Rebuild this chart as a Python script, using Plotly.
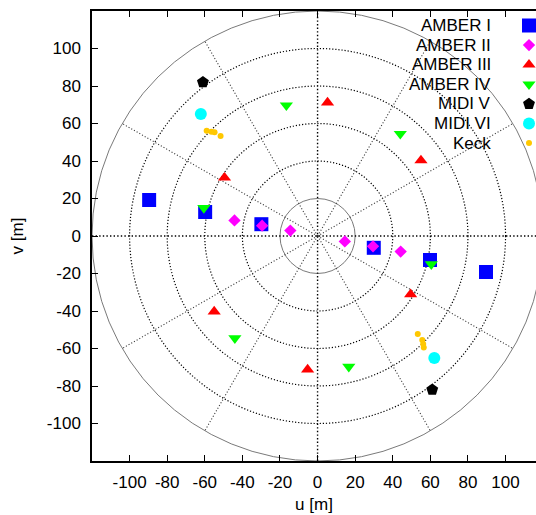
import math
import plotly.graph_objects as go

# ---- data (u, v in metres) ----
amber1_u = [-89.6, -59.8, -29.9, 29.9, 59.8, 89.6]
amber1_v = [19.2, 12.8, 6.3, -6.3, -12.8, -19.2]
amber2_u = [-44.2, -29.5, -14.5, 14.5, 29.5, 44.2]
amber2_v = [8.3, 5.5, 2.9, -2.9, -5.5, -8.3]
amber3_u = [-49.5, 5.3, 55.0, 49.5, -5.3, -55.0]
amber3_v = [31.1, 71.2, 40.3, -31.1, -71.2, -40.3]
amber4_u = [-16.6, -60.5, 44.0, 16.6, 60.5, -44.0]
amber4_v = [69.7, 15.0, 54.5, -69.7, -15.0, -54.5]
midi5_u = [-61.0, 61.0]
midi5_v = [82.0, -82.0]
midi6_u = [-62.1, 62.1]
midi6_v = [65.1, -65.1]
keck_u = [-59.0, -56.5, -54.8, -51.6, 53.3, 55.7, 56.2, 56.5]
keck_v = [56.2, 55.6, 55.3, 53.3, -52.3, -55.5, -57.6, -59.4]

series_names = ["AMBER I", "AMBER II", "AMBER III", "AMBER IV", "MIDI V", "MIDI VI", "Keck"]

ring_radii = [20, 40, 60, 80, 100, 120]
spoke_angles = [30, 60, 120, 150, 210, 240, 300, 330]
tick_vals = [-100, -80, -60, -40, -20, 0, 20, 40, 60, 80, 100]

# ---- styles ----
styles = [
    dict(symbol="square", color="#0000ff", size=14),
    dict(symbol="diamond", color="#ff00ff", size=9.5),
    dict(symbol="triangle-up", color="#ff0000", size=11.5),
    dict(symbol="triangle-down", color="#00ff00", size=11.5),
    dict(symbol="pentagon", color="#000000", size=12.5),
    dict(symbol="circle", color="#00ffff", size=12),
    dict(symbol="circle", color="#ffc800", size=6),
]
data_u = [amber1_u, amber2_u, amber3_u, amber4_u, midi5_u, midi6_u, keck_u]
data_v = [amber1_v, amber2_v, amber3_v, amber4_v, midi5_v, midi6_v, keck_v]

FONT = "Liberation Sans, Arial, Helvetica, sans-serif"
W, H = 536, 515
ML, MT, MB = 92, 11, 54
XR = [-120, 116.2]
YR = [-120, 120]


def px_to_u(px):
    return XR[0] + (px - ML) / (W - ML) * (XR[1] - XR[0])


def py_to_v(py):
    return YR[1] - (py - MT) / (H - MT - MB) * (YR[1] - YR[0])


fig = go.Figure()

for name, u, v, st in zip(series_names, data_u, data_v, styles):
    fig.add_trace(go.Scatter(
        x=u, y=v, mode="markers", name=name, showlegend=False,
        marker=dict(symbol=st["symbol"], color=st["color"], size=st["size"],
                    line=dict(width=0)),
        hoverinfo="x+y+name",
    ))

# ---- manual gnuplot-style key (text right-justified, symbol on the right) ----
key_y0, key_dy = 25.5, 19.6
key_text_x, key_sym_x = 493, 529
for i, (name, st) in enumerate(zip(series_names, styles)):
    yk = key_y0 + key_dy * i
    fig.add_trace(go.Scatter(
        x=[px_to_u(key_sym_x)], y=[py_to_v(yk)], mode="markers",
        showlegend=False, hoverinfo="skip",
        marker=dict(symbol=st["symbol"], color=st["color"], size=st["size"],
                    line=dict(width=0)),
    ))
    fig.add_annotation(x=(key_text_x - ML) / (W - ML), y=1 - (yk - MT) / (H - MT - MB),
                       xref="paper", yref="paper", text=name,
                       showarrow=False, xanchor="right", yanchor="middle",
                       font=dict(family=FONT, size=17, color="#000"))

# ---- polar grid ----
shapes = []
for r in ring_radii:
    if r in (ring_radii[0], ring_radii[-1]):
        ln = dict(color="#7a7a7a", width=1)
    else:
        ln = dict(color="#000000", width=1.2, dash="1.2px,1.9px")
    shapes.append(dict(type="circle", xref="x", yref="y", x0=-r, x1=r, y0=-r, y1=r,
                       line=ln, layer="below"))
rmax = ring_radii[-1]
for a in spoke_angles:
    t = math.radians(a)
    shapes.append(dict(type="line", xref="x", yref="y", x0=0, y0=0,
                       x1=rmax * math.cos(t), y1=rmax * math.sin(t),
                       line=dict(color="#3a3a3a", width=1.1, dash="1.1px,2px"), layer="below"))
# zero axes
shapes.append(dict(type="line", xref="x", yref="y", x0=XR[0], x1=120, y0=0, y1=0,
                   line=dict(color="#000", width=1.4, dash="1.4px,2.2px"), layer="below"))
shapes.append(dict(type="line", xref="x", yref="y", x0=0, x1=0, y0=YR[0], y1=YR[1],
                   line=dict(color="#000", width=1.4, dash="1.4px,2.2px"), layer="below"))

axis_common = dict(
    showgrid=False, zeroline=False, showline=True, linecolor="#000", linewidth=1.5,
    ticks="inside", ticklen=6, tickwidth=1, tickcolor="#000",
    tickvals=tick_vals, ticktext=[str(t) for t in tick_vals],
    tickfont=dict(family=FONT, size=17, color="#000"),
)

fig.update_layout(
    width=W, height=H,
    margin=dict(l=ML, r=0, t=MT, b=MB, pad=0),
    paper_bgcolor="white", plot_bgcolor="white",
    showlegend=False,
    shapes=shapes,
    xaxis=dict(range=XR, mirror="ticks", ticklabelstandoff=5,
               title=dict(text="u [m]", font=dict(family=FONT, size=17, color="#000"), standoff=7),
               **axis_common),
    yaxis=dict(range=YR, mirror=False, ticklabelstandoff=6,
               title=dict(text="v [m]", font=dict(family=FONT, size=17, color="#000"), standoff=19),
               **axis_common),
)

fig.write_html("out.html", config={"displayModeBar": False},
               post_script="document.body.style.margin='0';")
